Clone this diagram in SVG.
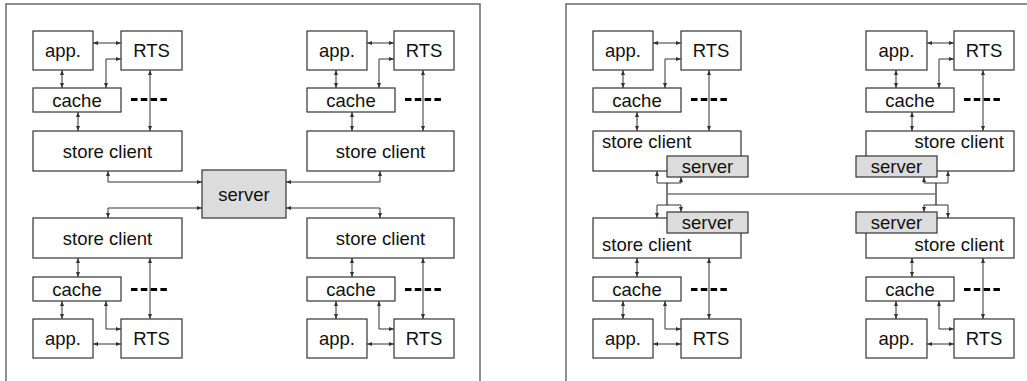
<svg xmlns="http://www.w3.org/2000/svg" width="1027" height="381" viewBox="0 0 1027 381">
<style>
.frame{fill:none;stroke:#6a6a6a;stroke-width:1.5}
.box{fill:#fff;stroke:#333;stroke-width:1.2}
.srv{fill:#dcdcdc;stroke:#333;stroke-width:1.2}
.t{font-family:"Liberation Sans",Arial,sans-serif;font-size:18.5px;fill:#111;text-anchor:middle}
.tl{text-anchor:start}
.tr{text-anchor:end}
.c{fill:none;stroke:#333;stroke-width:1;marker-start:url(#ah);marker-end:url(#ah)}
.p{fill:none;stroke:#222;stroke-width:1.2}
.bus{fill:none;stroke:#777;stroke-width:1.5}
.dash{fill:none;stroke:#000;stroke-width:3;stroke-dasharray:6.5 3.3}
</style>
<defs>
<marker id="ah" markerUnits="userSpaceOnUse" markerWidth="5" markerHeight="4" refX="5" refY="2" orient="auto-start-reverse">
<path d="M0,0 L5,2 L0,4 z" fill="#333"/>
</marker>
</defs>
<path class="frame" d="M6,381 V4 H480 V381"/>
<path class="frame" d="M566,381 V4 H1027"/>

<g id="connectors">
<!-- dashes -->
<path class="dash" d="M131,99.5 H167 M405,99.5 H442 M131,289.5 H167 M405,289.5 H442 M691,99.5 H728 M964,99.5 H1001 M691,289.5 H728 M964,289.5 H1001"/>
<!-- left TL -->
<path class="c" d="M93,43 H121"/>
<path class="c" d="M106,88 V59 H121"/>
<path class="c" d="M62,70 V88"/>
<path class="c" d="M78,112 V131"/>
<path class="c" d="M150,70 V131"/>
<path class="c" d="M108,171 V182 H202"/>
<!-- left TR -->
<path class="c" d="M367,43 H394"/>
<path class="c" d="M379,88 V59 H394"/>
<path class="c" d="M336,70 V88"/>
<path class="c" d="M352,112 V131"/>
<path class="c" d="M423,70 V131"/>
<path class="c" d="M380,171 V182 H286"/>
<!-- left BL -->
<path class="c" d="M202,208 H108 V218"/>
<path class="c" d="M78,258 V277"/>
<path class="c" d="M62,301 V319"/>
<path class="c" d="M106,301 V329 H121"/>
<path class="c" d="M93,344 H121"/>
<path class="c" d="M150,258 V319"/>
<!-- left BR -->
<path class="c" d="M286,208 H380 V218"/>
<path class="c" d="M352,258 V277"/>
<path class="c" d="M336,301 V319"/>
<path class="c" d="M379,301 V329 H394"/>
<path class="c" d="M367,344 H394"/>
<path class="c" d="M423,258 V319"/>
<!-- right TL -->
<path class="c" d="M653,43 H681"/>
<path class="c" d="M665,88 V59 H681"/>
<path class="c" d="M623,70 V88"/>
<path class="c" d="M637,112 V131"/>
<path class="c" d="M709,70 V131"/>
<path class="c" d="M657,171 V183 H681 V177"/>
<!-- right TR -->
<path class="c" d="M927,43 H954"/>
<path class="c" d="M939,88 V59 H954"/>
<path class="c" d="M896,70 V88"/>
<path class="c" d="M912,112 V131"/>
<path class="c" d="M983,70 V131"/>
<path class="c" d="M924,177 V183 H948 V171"/>
<!-- right BL -->
<path class="c" d="M657,218 V205 H681 V212"/>
<path class="c" d="M637,258 V277"/>
<path class="c" d="M623,301 V319"/>
<path class="c" d="M665,301 V329 H681"/>
<path class="c" d="M653,344 H681"/>
<path class="c" d="M709,258 V319"/>
<!-- right BR -->
<path class="c" d="M924,212 V205 H948 V218"/>
<path class="c" d="M912,258 V277"/>
<path class="c" d="M896,301 V319"/>
<path class="c" d="M939,301 V329 H954"/>
<path class="c" d="M927,344 H954"/>
<path class="c" d="M983,258 V319"/>
<!-- bus -->
<path class="p" d="M667,183 V205"/>
<path class="p" d="M936,183 V205"/>
<path class="bus" d="M667,194 H936"/>
</g>

<!-- Left panel -->
<g id="l-tl-app"><rect class="box" x="33" y="31" width="60" height="39"/><text class="t" x="63" y="57">app.</text></g>
<g id="l-tl-rts"><rect class="box" x="121" y="31" width="61" height="39"/><text class="t" x="151.5" y="57">RTS</text></g>
<g id="l-tl-cache"><rect class="box" x="33" y="88" width="88" height="24"/><text class="t" x="77" y="106.5">cache</text></g>
<g id="l-tl-store"><rect class="box" x="33" y="131" width="149" height="40"/><text class="t" x="107.5" y="157.5">store client</text></g>

<g id="l-tr-app"><rect class="box" x="307" y="31" width="60" height="39"/><text class="t" x="337" y="57">app.</text></g>
<g id="l-tr-rts"><rect class="box" x="394" y="31" width="60" height="39"/><text class="t" x="424" y="57">RTS</text></g>
<g id="l-tr-cache"><rect class="box" x="307" y="88" width="88" height="24"/><text class="t" x="351" y="106.5">cache</text></g>
<g id="l-tr-store"><rect class="box" x="307" y="131" width="147" height="40"/><text class="t" x="380.5" y="157.5">store client</text></g>

<g id="l-server"><rect class="srv" x="202" y="170" width="84" height="48"/><text class="t" x="244" y="200.5">server</text></g>

<g id="l-bl-store"><rect class="box" x="33" y="218" width="149" height="40"/><text class="t" x="107.5" y="244.5">store client</text></g>
<g id="l-bl-cache"><rect class="box" x="33" y="277" width="88" height="24"/><text class="t" x="77" y="295.5">cache</text></g>
<g id="l-bl-app"><rect class="box" x="33" y="319" width="60" height="39"/><text class="t" x="63" y="345">app.</text></g>
<g id="l-bl-rts"><rect class="box" x="121" y="319" width="61" height="39"/><text class="t" x="151.5" y="345">RTS</text></g>

<g id="l-br-store"><rect class="box" x="307" y="218" width="147" height="40"/><text class="t" x="380.5" y="244.5">store client</text></g>
<g id="l-br-cache"><rect class="box" x="307" y="277" width="88" height="24"/><text class="t" x="351" y="295.5">cache</text></g>
<g id="l-br-app"><rect class="box" x="307" y="319" width="60" height="39"/><text class="t" x="337" y="345">app.</text></g>
<g id="l-br-rts"><rect class="box" x="394" y="319" width="60" height="39"/><text class="t" x="424" y="345">RTS</text></g>

<!-- Right panel -->
<g id="r-tl-app"><rect class="box" x="593" y="31" width="60" height="39"/><text class="t" x="623" y="57">app.</text></g>
<g id="r-tl-rts"><rect class="box" x="681" y="31" width="60" height="39"/><text class="t" x="711" y="57">RTS</text></g>
<g id="r-tl-cache"><rect class="box" x="593" y="88" width="88" height="24"/><text class="t" x="637" y="106.5">cache</text></g>
<g id="r-tl-store"><rect class="box" x="593" y="131" width="148" height="40"/><text class="t tl" x="602" y="148">store client</text></g>
<g id="r-tl-server"><rect class="srv" x="667" y="156" width="81" height="21"/><text class="t" x="707.5" y="173">server</text></g>

<g id="r-tr-app"><rect class="box" x="866" y="31" width="61" height="39"/><text class="t" x="896.5" y="57">app.</text></g>
<g id="r-tr-rts"><rect class="box" x="954" y="31" width="60" height="39"/><text class="t" x="984" y="57">RTS</text></g>
<g id="r-tr-cache"><rect class="box" x="866" y="88" width="88" height="24"/><text class="t" x="910" y="106.5">cache</text></g>
<g id="r-tr-store"><rect class="box" x="866" y="131" width="148" height="40"/><text class="t tr" x="1004" y="148">store client</text></g>
<g id="r-tr-server"><rect class="srv" x="856" y="156" width="81" height="21"/><text class="t" x="896.5" y="173">server</text></g>

<g id="r-bl-store"><rect class="box" x="593" y="218" width="148" height="40"/><text class="t tl" x="602" y="251">store client</text></g>
<g id="r-bl-server"><rect class="srv" x="667" y="212" width="81" height="21"/><text class="t" x="707.5" y="229">server</text></g>
<g id="r-bl-cache"><rect class="box" x="593" y="277" width="88" height="24"/><text class="t" x="637" y="295.5">cache</text></g>
<g id="r-bl-app"><rect class="box" x="593" y="319" width="60" height="39"/><text class="t" x="623" y="345">app.</text></g>
<g id="r-bl-rts"><rect class="box" x="681" y="319" width="60" height="39"/><text class="t" x="711" y="345">RTS</text></g>

<g id="r-br-store"><rect class="box" x="866" y="218" width="148" height="40"/><text class="t tr" x="1004" y="251">store client</text></g>
<g id="r-br-server"><rect class="srv" x="856" y="212" width="81" height="21"/><text class="t" x="896.5" y="229">server</text></g>
<g id="r-br-cache"><rect class="box" x="866" y="277" width="88" height="24"/><text class="t" x="910" y="295.5">cache</text></g>
<g id="r-br-app"><rect class="box" x="866" y="319" width="61" height="39"/><text class="t" x="896.5" y="345">app.</text></g>
<g id="r-br-rts"><rect class="box" x="954" y="319" width="60" height="39"/><text class="t" x="984" y="345">RTS</text></g>
</svg>
